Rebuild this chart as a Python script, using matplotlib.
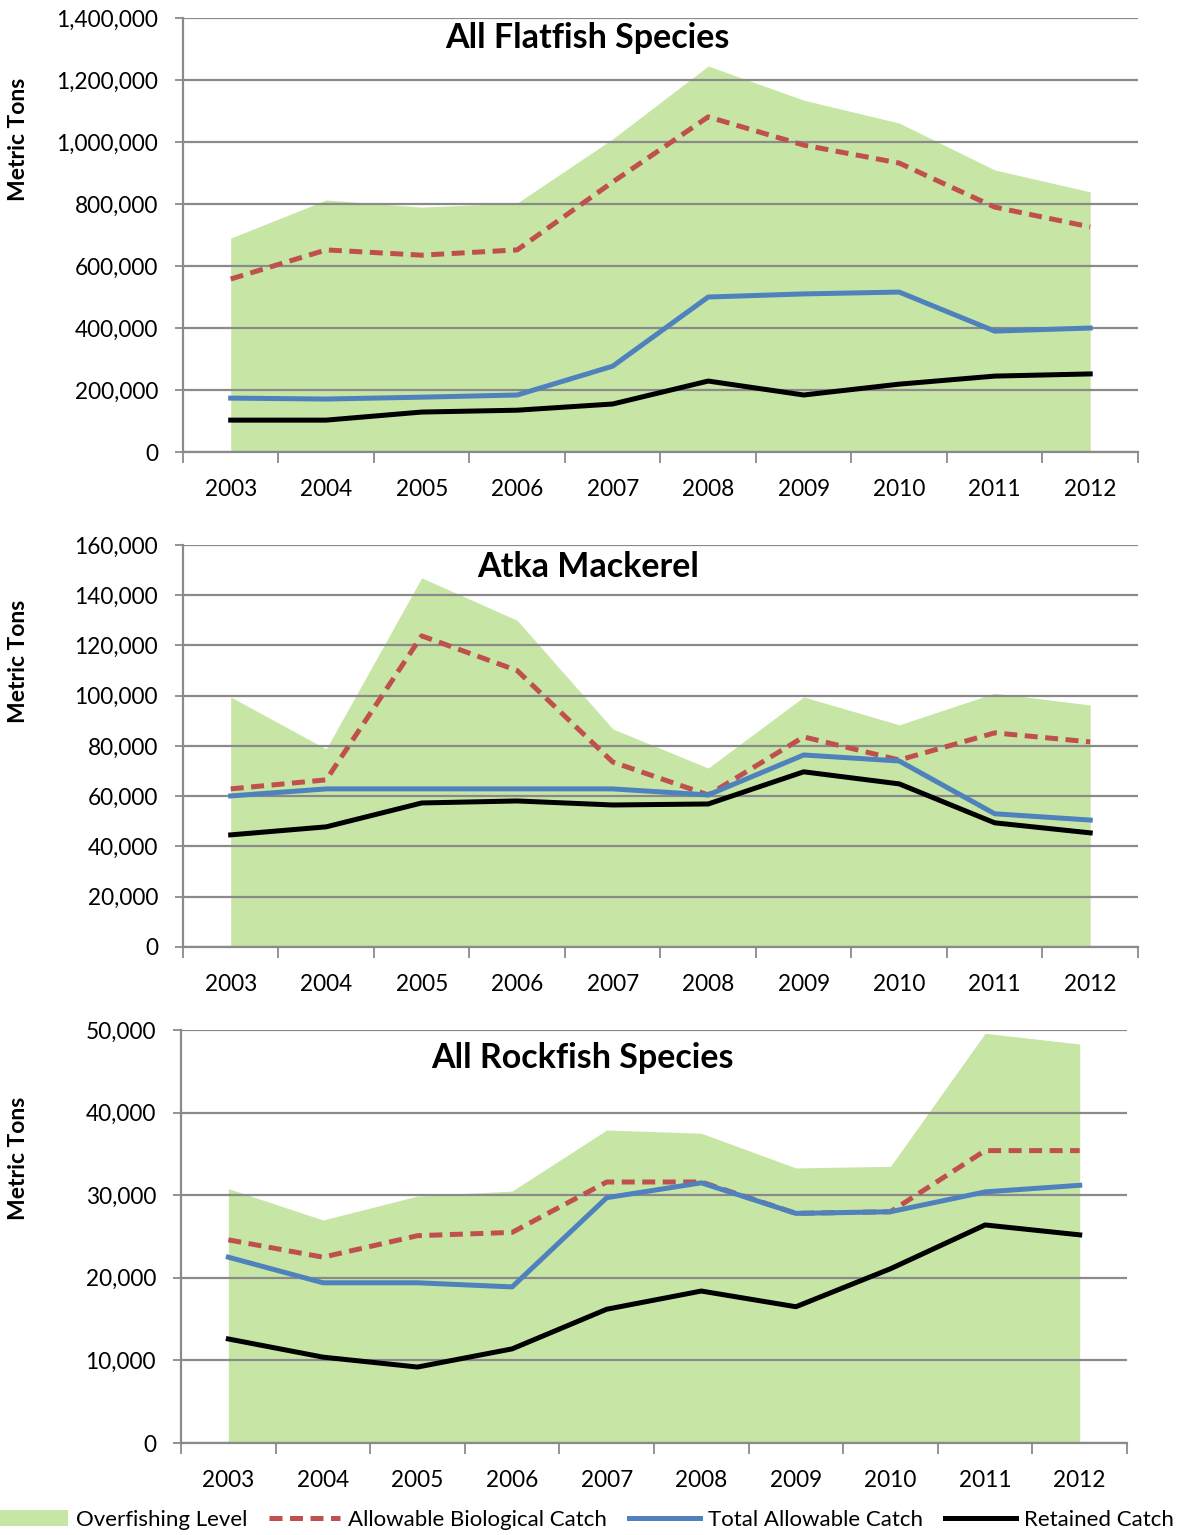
import matplotlib
matplotlib.use("Agg")
import matplotlib.pyplot as plt
from matplotlib.patches import Patch
from matplotlib.lines import Line2D
from matplotlib.ticker import FuncFormatter, FixedLocator
import numpy as np

plt.rcParams['font.family'] = ['Lato', 'DejaVu Sans']

years = ['2003', '2004', '2005', '2006', '2007', '2008', '2009', '2010', '2011', '2012']

# All Flatfish Species
flat_ofl = [690000, 813000, 790000, 803000, 1010000, 1245000, 1135000, 1061000, 910000, 839000]
flat_abc = [558000, 652000, 635000, 652000, 871000, 1081000, 990000, 932000, 790000, 726000]
flat_tac = [174000, 171000, 177000, 184000, 277000, 500000, 510000, 516000, 390000, 400000]
flat_ret = [103000, 103000, 129000, 135000, 155000, 229000, 184000, 219000, 245000, 252000]

# Atka Mackerel
atka_ofl = [99500, 78800, 146900, 130000, 86800, 71200, 99500, 88400, 101000, 96300]
atka_abc = [62900, 66500, 123800, 110000, 73600, 60500, 83600, 74400, 85200, 81600]
atka_tac = [60100, 62900, 62900, 62900, 62900, 60500, 76400, 74000, 53000, 50500]
atka_ret = [44600, 47800, 57300, 58100, 56500, 56900, 69700, 64900, 49400, 45400]

# All Rockfish Species
rock_ofl = [30800, 27000, 29900, 30500, 37900, 37500, 33300, 33500, 49600, 48300]
rock_abc = [24600, 22500, 25100, 25500, 31600, 31600, 27800, 28000, 35400, 35400]
rock_tac = [22500, 19400, 19400, 18900, 29700, 31500, 27800, 28000, 30400, 31200]
rock_ret = [12600, 10400, 9200, 11400, 16200, 18400, 16500, 21100, 26400, 25200]

GREEN = '#c7e6a5'
RED = '#c0504d'
BLUE = '#4f81bd'
GRID = '#8a8a8a'
LW = 3.6
DASH = (2.6, 1.5)
FIG_W = 1178

panels = [
    ("All Flatfish Species", flat_ofl, flat_abc, flat_tac, flat_ret, 1400000, 200000,
     [0.1553, 0.7055, 0.8107, 0.2828], 0.954, 0.72),
    ("Atka Mackerel", atka_ofl, atka_abc, atka_tac, atka_ret, 160000, 20000,
     [0.1553, 0.3831, 0.8107, 0.2619], 0.945, 0.71),
    ("All Rockfish Species", rock_ofl, rock_abc, rock_tac, rock_ret, 50000, 10000,
     [0.1537, 0.0599, 0.8030, 0.2691], 0.932, 0.69),
]

fig = plt.figure(figsize=(11.78, 15.35), dpi=100)
x = np.arange(len(years))

for title, ofl, abc, tac, ret, ymax, step, rect, ty, ly in panels:
    ax = fig.add_axes(rect)
    ax.fill_between(x, 0, ofl, color=GREEN, linewidth=0, zorder=1)
    ax.plot(x, abc, color=RED, linewidth=LW, dashes=DASH, zorder=3)
    ax.plot(x, tac, color=BLUE, linewidth=LW, zorder=4)
    ax.plot(x, ret, color='black', linewidth=LW, zorder=5)

    ax.set_xlim(-0.5, len(years) - 0.5)
    ax.set_ylim(0, ymax)
    ax.set_yticks(np.arange(0, ymax + 1, step))
    ax.yaxis.set_major_formatter(FuncFormatter(lambda v, p: f"{int(v):,}"))
    ax.grid(axis='y', color=GRID, linewidth=1.6, zorder=2)
    ax.set_axisbelow(False)

    ax.set_xticks(x)
    ax.set_xticklabels(years)
    ax.xaxis.set_minor_locator(FixedLocator(np.arange(-0.5, len(years), 1.0)))
    ax.tick_params(axis='x', which='major', length=0, pad=19.5, labelsize=16.3)
    ax.tick_params(axis='x', which='minor', length=8, width=1.3, color=GRID, direction='out')
    ax.tick_params(axis='y', length=6, width=1.3, color=GRID, labelsize=16.3, pad=12)

    for s in ['top', 'right']:
        ax.spines[s].set_visible(False)
    for s in ['left', 'bottom']:
        ax.spines[s].set_color(GRID)
        ax.spines[s].set_linewidth(1.6)
        ax.spines[s].set_zorder(6)

    ax.set_ylabel("Metric Tons", fontsize=16.5, fontweight='bold')
    # right edge of the rotated label about 29 px from the figure's left edge
    ax.yaxis.set_label_coords(-(rect[0] * FIG_W - 29) / (rect[2] * FIG_W), ly)
    ax.text(0.424, ty, title, transform=ax.transAxes, ha='center', va='center',
            fontsize=24.5, fontweight='bold', zorder=7)

handles = [
    Patch(facecolor=GREEN, edgecolor='none'),
    Line2D([0], [0], color=RED, linewidth=LW, dashes=DASH),
    Line2D([0], [0], color=BLUE, linewidth=LW),
    Line2D([0], [0], color='black', linewidth=LW),
]
labels = ["Overfishing Level", "Allowable Biological Catch", "Total Allowable Catch", "Retained Catch"]
fig.legend(handles, labels, loc='center', bbox_to_anchor=(0.497, 0.0098), ncol=4,
           frameon=False, fontsize=16, handlelength=3.2, handletextpad=0.35,
           columnspacing=1.0, borderpad=0.1)

fig.savefig("out.png", dpi=100)
